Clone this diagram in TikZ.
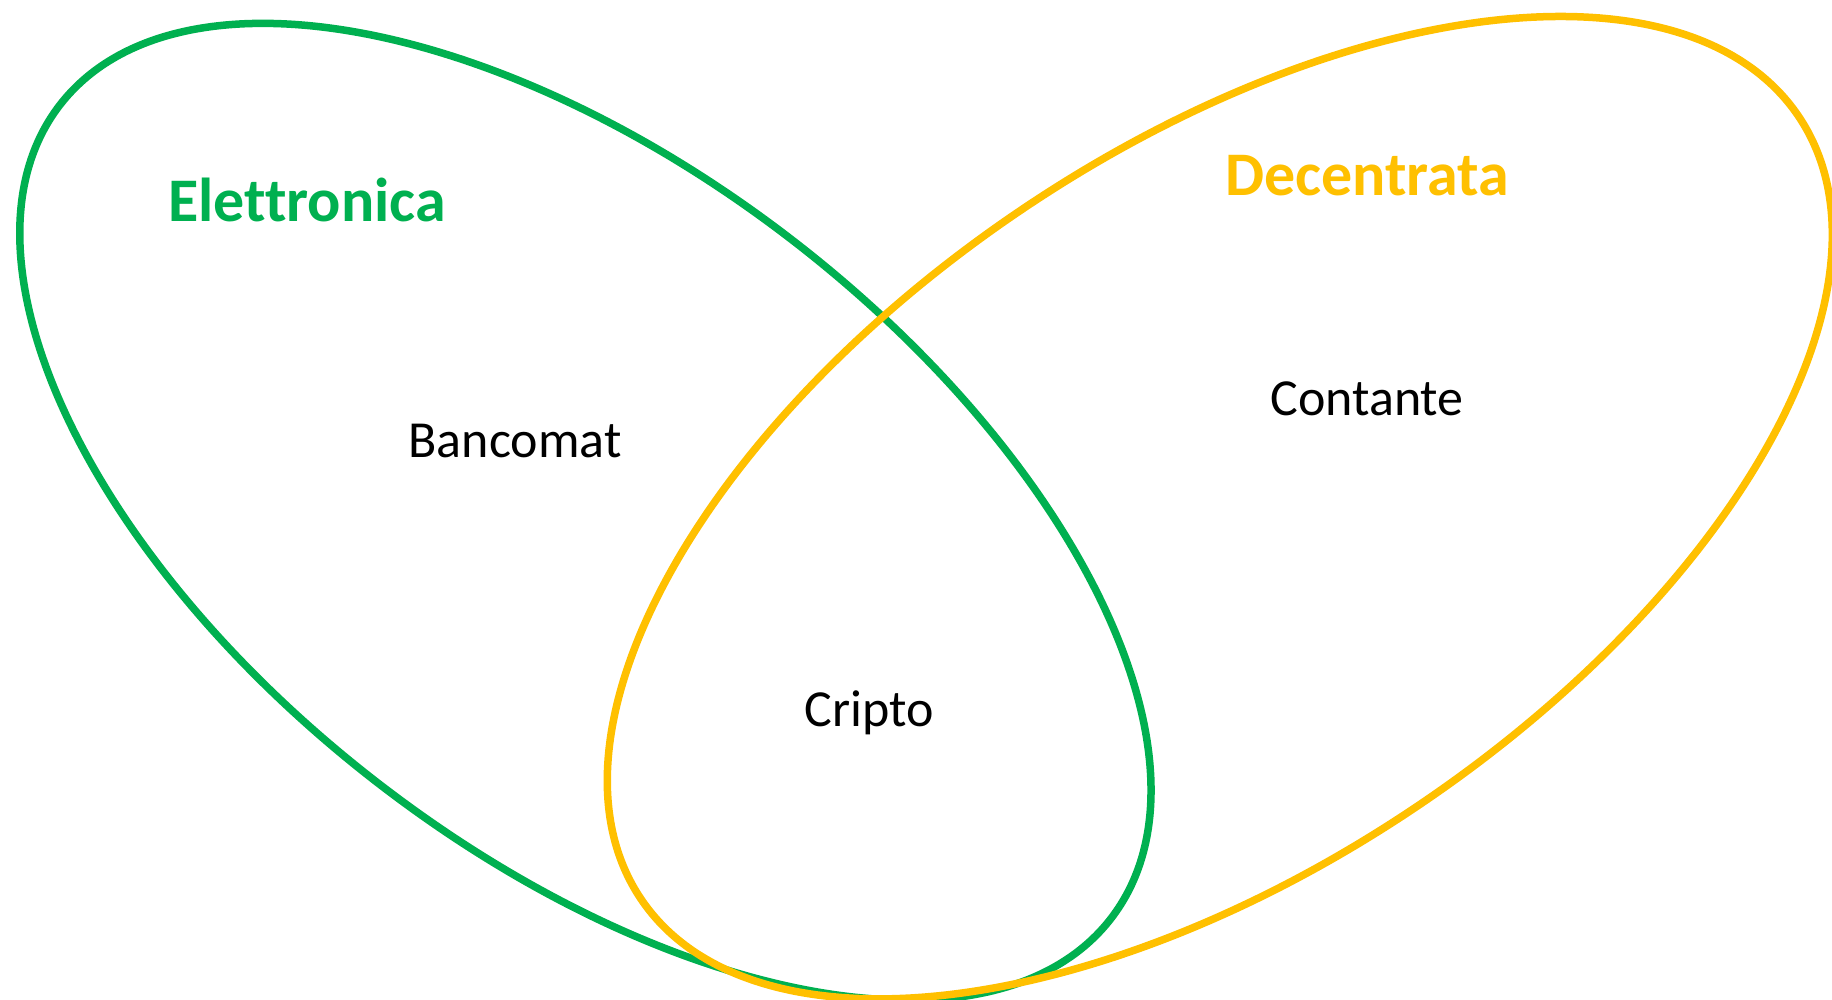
\documentclass[tikz,border=0pt]{standalone}
\usepackage{fontspec}
\setmainfont{Carlito}[Ligatures={NoCommon,TeX}]
\definecolor{vgreen}{HTML}{00B050}
\definecolor{vyellow}{HTML}{FFC000}
\begin{document}
\begin{tikzpicture}[x=1pt,y=1pt,
  setline/.style={line width=7.5pt},
  plain/.style={font=\fontsize{52}{60}\selectfont, anchor=base, inner sep=0pt},
  heading/.style={font=\fontsize{62}{72}\selectfont\bfseries, anchor=base, inner sep=0pt}]
\useasboundingbox (0,0) rectangle (1832,1000);
\fill[white] (0,0) rectangle (1832,1000);
\draw[setline, vgreen, rotate around={-37.76:(585.4,488.2)}] (585.4,488.2) ellipse [x radius=664.6, y radius=341.5];
\draw[setline, vyellow, rotate around={34.1:(1219.8,492.3)}] (1219.8,492.3) ellipse [x radius=698.7, y radius=357.9];
\node[heading, text=vgreen] (elet) at (307,778) {Elettronica};
\node[heading, text=vyellow] (dec) at (1367,804) {Decentrata};
\node[plain] (banc) at (515,542) {Bancomat};
\node[plain] (cont) at (1367,584) {Contante};
\node[plain] (cri) at (869,273) {Cripto};
\end{tikzpicture}
\end{document}
